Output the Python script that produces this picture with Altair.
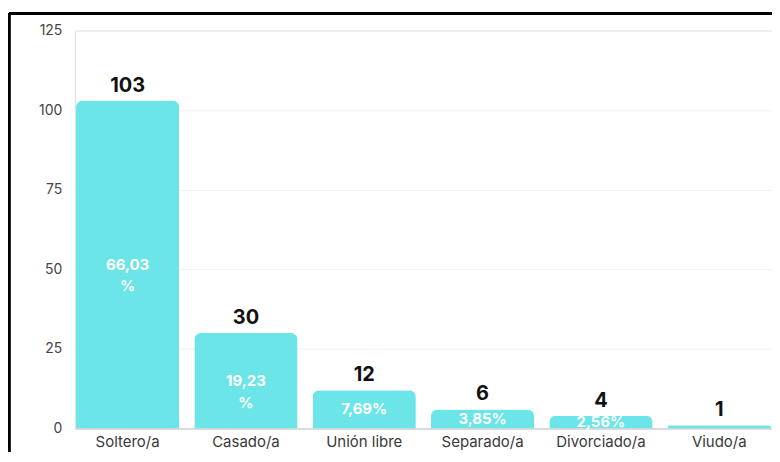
import altair as alt
import pandas as pd

categories = ["Soltero/a", "Casado/a", "Unión libre", "Separado/a", "Divorciado/a", "Viudo/a"]
counts = [103, 30, 12, 6, 4, 1]
pct_labels = ["66,03\n%", "19,23\n%", "7,69%", "3,85%", "2,56%", ""]
y_ticks = [0, 25, 50, 75, 100, 125]

df = pd.DataFrame({"cat": categories, "n": counts, "pct": pct_labels})

FONT = "Inter"
W, H = 699, 399

x = alt.X("cat:N", sort=categories, title=None,
          scale=alt.Scale(paddingInner=0.128, paddingOuter=0.01),
          axis=alt.Axis(labelAngle=0, labelFontSize=15, labelColor="#3a3a3a", labelFont=FONT,
                        ticks=False, domainColor="#c8c8c8", labelPadding=6, grid=False))
y = alt.Y("n:Q", title=None,
          scale=alt.Scale(domain=[0, 125], nice=False),
          axis=alt.Axis(values=y_ticks, labelFontSize=14, labelColor="#444444", labelFont=FONT,
                        ticks=False, domain=False, labelPadding=13, gridColor="#f1f1f1"))

base = alt.Chart(df)

bars = base.mark_bar(color="#6be5e8", cornerRadiusTopLeft=7, cornerRadiusTopRight=7).encode(x=x, y=y)

vals = base.mark_text(fontSize=20, fontWeight="bold", font=FONT, color="#111111",
                      baseline="bottom", dy=-5).encode(x=alt.X("cat:N", sort=categories), y="n:Q", text="n:Q")

pcts = base.transform_calculate(mid="datum.n / 2").mark_text(
    fontSize=15, fontWeight="bold", font=FONT, color="white", baseline="middle", lineBreak="\n",
    lineHeight=22).encode(x=alt.X("cat:N", sort=categories), y="mid:Q", text="pct:N")

frame_top = alt.Chart(df).mark_rule(color="black", strokeWidth=2.5).encode(
    x=alt.value(-66), x2=alt.value(W + 10), y=alt.value(-17))
frame_left = alt.Chart(df).mark_rule(color="black", strokeWidth=2.5).encode(
    x=alt.value(-66), y=alt.value(-17), y2=alt.value(H + 30))

chart = alt.layer(bars, vals, pcts, frame_top, frame_left).properties(
    width=W, height=H,
    autosize=alt.AutoSizeParams(type="none"),
    padding={"left": 67, "top": 22, "right": 0, "bottom": 23},
).configure_view(stroke=None).configure(background="white")

chart.save("out.html", embed_options={"renderer": "svg", "actions": False})
